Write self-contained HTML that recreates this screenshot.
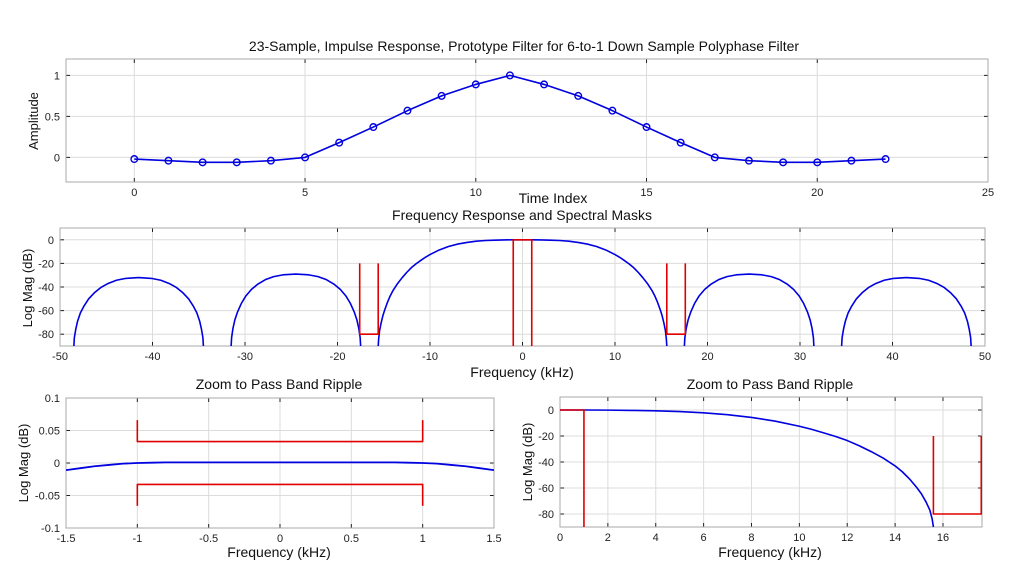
<!DOCTYPE html>
<html><head><meta charset="utf-8"><style>
html,body{margin:0;padding:0;background:#fff;}
svg{display:block;font-family:"Liberation Sans",Arial,sans-serif;}
</style></head><body>
<svg id="c" width="1024" height="576" viewBox="0 0 1024 576" xmlns="http://www.w3.org/2000/svg"></svg>
<script>
// ---- data ----
const tapIndex = [0,1,2,3,4,5,6,7,8,9,10,11,12,13,14,15,16,17,18,19,20,21,22];
const tapValues = [-0.02,-0.04,-0.06,-0.06,-0.04,0.0,0.18,0.37,0.57,0.75,0.89,1.0,0.89,0.75,0.57,0.37,0.18,0.0,-0.04,-0.06,-0.06,-0.04,-0.02];
// main lobe (positive frequencies, kHz / dB)
const mainFreq = [0,1,2,3,4,5,6,7,8,9,10,10.5,11,11.5,12,12.5,13,13.5,14,14.3,14.6,14.9,15.1,15.3,15.45,15.55,15.6];
const mainDb = [0,0,-0.1,-0.3,-0.6,-1.2,-2.2,-3.6,-5.7,-8.6,-12.5,-14.8,-17.5,-20.3,-23.5,-27.5,-32,-37,-43,-47.5,-53,-59.5,-64.5,-71,-77,-84,-90];
// sidelobe 1 (17.5..31.5 kHz)
const lobe1Freq = [17.5,17.55,17.7,17.9,18.2,18.6,19.1,19.7,20.4,21.2,22.1,23.1,24.5,25.9,26.9,27.8,28.6,29.3,29.9,30.4,30.8,31.1,31.3,31.45,31.5];
const lobe1Db = [-90,-83,-75,-68,-61,-54,-47.5,-42,-37.5,-33.8,-31.2,-29.7,-29,-29.7,-31.2,-33.8,-37.5,-42,-47.5,-54,-61,-68,-75,-83,-90];
// sidelobe 2 (34.5..48.5 kHz)
const lobe2Freq = [34.5,34.55,34.7,34.9,35.2,35.6,36.1,36.7,37.4,38.2,39.1,40.1,41.5,42.9,43.9,44.8,45.6,46.3,46.9,47.4,47.8,48.1,48.3,48.45,48.5];
const lobe2Db = [-90,-83,-76,-69,-62,-56,-50,-45,-40.5,-37,-34.3,-32.7,-32,-32.7,-34.3,-37,-40.5,-45,-50,-56,-62,-69,-76,-83,-90];
// pass band ripple detail (kHz / dB)
const rippleFreq = [0,0.2,0.4,0.6,0.8,0.9,1.0,1.1,1.2,1.3,1.4,1.5];
const rippleDb = [0.001,0.001,0.001,0.001,0.001,0.0005,0,-0.001,-0.003,-0.005,-0.008,-0.011];
// masks
const passEdge = 1;           // kHz
const rippleMask = 0.033;     // dB
const rippleMaskTip = 0.066;  // dB
const stopStart = 15.6, stopEnd = 17.6; // kHz
const stopTop = -20, stopFloor = -80;   // dB

const svg = document.getElementById('c');
const NS = 'http://www.w3.org/2000/svg';
function mk(tag, attrs, parent){const e=document.createElementNS(NS,tag);for(const k in attrs)e.setAttribute(k,attrs[k]);(parent||svg).appendChild(e);return e;}
function txt(s,x,y,attrs,parent){const e=mk('text',Object.assign({x:x,y:y},attrs),parent);e.textContent=s;return e;}

function axes(name,L,T,R,B,xmin,xmax,ymin,ymax,xt,yt,xfmt,yfmt){
  const g=mk('g',{});
  
  
  const sx=v=>L+(v-xmin)/(xmax-xmin)*(R-L);
  const sy=v=>B-(v-ymin)/(ymax-ymin)*(B-T);
  mk('rect',{x:L,y:T,width:R-L,height:B-T,fill:'#fff',stroke:'none'},g);
  xt.forEach(v=>{const x=sx(v);
    mk('line',{x1:x,y1:T,x2:x,y2:B,stroke:'#dcdcdc','stroke-width':1},g);
    mk('line',{x1:x,y1:T,x2:x,y2:T+4,stroke:'#222','stroke-width':1},g);
    mk('line',{x1:x,y1:B,x2:x,y2:B-4,stroke:'#222','stroke-width':1},g);
    const t=txt(xfmt(v),x,B+14,{'font-size':11,'text-anchor':'middle',fill:'#222'},g);
    
    
  });
  yt.forEach(v=>{const y=sy(v);
    mk('line',{x1:L,y1:y,x2:R,y2:y,stroke:'#dcdcdc','stroke-width':1},g);
    mk('line',{x1:L,y1:y,x2:L+4,y2:y,stroke:'#222','stroke-width':1},g);
    mk('line',{x1:R,y1:y,x2:R-4,y2:y,stroke:'#222','stroke-width':1},g);
    const t=txt(yfmt(v),L-6,y+4,{'font-size':11,'text-anchor':'end',fill:'#222'},g);
    
    
  });
  mk('rect',{x:L,y:T,width:R-L,height:B-T,fill:'none',stroke:'#a8a8a8','stroke-width':1},g);
  const clipId=name+'-clip';
  const cp=mk('clipPath',{id:clipId},g);mk('rect',{x:L,y:T,width:R-L,height:B-T},cp);
  const pg=mk('g',{'clip-path':'url(#'+clipId+')'},g);
  return {sx,sy,g,pg};
}
function poly(ax,xs,ys,color,w,name){
  const p=mk('polyline',{points:xs.map((x,i)=>ax.sx(x).toFixed(2)+','+ax.sy(ys[i]).toFixed(2)).join(' '),fill:'none',stroke:color,'stroke-width':w,'stroke-linejoin':'round'},ax.pg);
  
  
  return p;
}
function label(s,x,y,rot,name,size){
  const t=txt(s,x,y,{'font-size':size||14,'text-anchor':'middle',fill:'#111'});
  if(rot)t.setAttribute('transform','rotate(-90 '+x+' '+y+')');
  
  
}
const fmt=v=>String(v);

// ---- plot 1: impulse response ----
const a1=axes('impulse-axes',66,59,988,182,-2,25,-0.3,1.2,[0,5,10,15,20,25],[0,0.5,1],fmt,fmt);
poly(a1,tapIndex,tapValues,'#0000e0',1.6,'impulse-line');
tapIndex.forEach((x,i)=>{const c=mk('circle',{cx:a1.sx(x),cy:a1.sy(tapValues[i]),r:3.3,fill:'none',stroke:'#0000e0','stroke-width':1.4},a1.pg);
  
  });
label('23-Sample, Impulse Response, Prototype Filter for 6-to-1 Down Sample Polyphase Filter',524,51,false,'impulse-title');
label('Amplitude',38,121,true,'amplitude-axis-title',13);
label('Time Index',553,203,false,'time-index-axis-title');

function mirror(f,d){const xs=[],ys=[];for(let i=f.length-1;i>=0;i--){xs.push(-f[i]);ys.push(d[i]);}for(let i=0;i<f.length;i++){xs.push(f[i]);ys.push(d[i]);}return [xs,ys];}

// ---- plot 2: frequency response ----
const a2=axes('freq-response-axes',60,228,985,346,-50,50,-90,10,[-50,-40,-30,-20,-10,0,10,20,30,40,50],[-80,-60,-40,-20,0],fmt,fmt);
let m=mirror(mainFreq,mainDb);poly(a2,m[0],m[1],'#0000e0',1.6,'main-lobe');
[[lobe1Freq,lobe1Db],[lobe2Freq,lobe2Db]].forEach((lb,k)=>{
  poly(a2,lb[0],lb[1],'#0000e0',1.6,'sidelobe-pos-'+(k+1));
  poly(a2,lb[0].map(v=>-v),lb[1],'#0000e0',1.6,'sidelobe-neg-'+(k+1));
});
poly(a2,[-passEdge,-passEdge,passEdge,passEdge],[-95,0,0,-95],'#e00000',1.6,'passband-mask');
poly(a2,[stopStart,stopStart,stopEnd,stopEnd],[stopTop,stopFloor,stopFloor,stopTop],'#e00000',1.6,'stopband-mask-pos');
poly(a2,[-stopStart,-stopStart,-stopEnd,-stopEnd],[stopTop,stopFloor,stopFloor,stopTop],'#e00000',1.6,'stopband-mask-neg');
label('Frequency Response and Spectral Masks',522,220,false,'freq-response-title');
label('Log Mag (dB)',32,288,true,'freq-response-y-title',13);
label('Frequency (kHz)',522,377,false,'freq-response-x-title');

// ---- plot 3: passband ripple ----
const a3=axes('ripple-axes',66,398,494,528,-1.5,1.5,-0.1,0.1,[-1.5,-1,-0.5,0,0.5,1,1.5],[-0.1,-0.05,0,0.05,0.1],fmt,fmt);
m=mirror(rippleFreq,rippleDb);poly(a3,m[0],m[1],'#0000e0',1.8,'ripple-line');
poly(a3,[-passEdge,-passEdge,passEdge,passEdge],[rippleMaskTip,rippleMask,rippleMask,rippleMaskTip],'#e00000',1.6,'ripple-upper-mask');
poly(a3,[-passEdge,-passEdge,passEdge,passEdge],[-rippleMaskTip,-rippleMask,-rippleMask,-rippleMaskTip],'#e00000',1.6,'ripple-lower-mask');
label('Zoom to Pass Band Ripple',279,389,false,'ripple-title');
label('Log Mag (dB)',28,463,true,'ripple-y-title',13);
label('Frequency (kHz)',279,557,false,'ripple-x-title');

// ---- plot 4: zoom positive band ----
const a4=axes('zoom-axes',560,397,982,527,0,17.63,-90,10,[0,2,4,6,8,10,12,14,16],[-80,-60,-40,-20,0],fmt,fmt);
poly(a4,mainFreq,mainDb,'#0000e0',1.6,'zoom-response-line');
poly(a4,[0,passEdge,passEdge],[0,0,-95],'#e00000',1.6,'zoom-passband-mask');
poly(a4,[stopStart,stopStart,stopEnd,stopEnd],[stopTop,stopFloor,stopFloor,stopTop],'#e00000',1.6,'zoom-stopband-mask');
label('Zoom to Pass Band Ripple',770,389,false,'zoom-title');
label('Log Mag (dB)',532,462,true,'zoom-y-title',13);
label('Frequency (kHz)',770,557,false,'zoom-x-title');
</script>
</body></html>
